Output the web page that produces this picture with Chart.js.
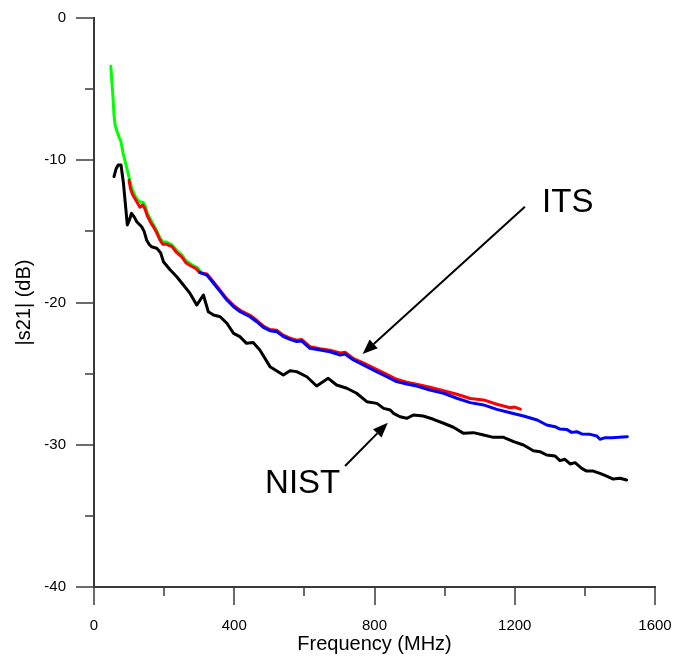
<!DOCTYPE html>
<html><head><meta charset="utf-8">
<script src="https://cdn.jsdelivr.net/npm/chart.js@4.4.1/dist/chart.umd.min.js"></script>
<style>html,body{margin:0;padding:0;background:#fff}#wrap{width:680px;height:656px;position:relative}</style>
</head><body><div id="wrap"><canvas id="c"></canvas></div>
<script>
// ---- data (frequency in MHz, |s21| in dB) ----
const greenFreq = [48,51,54,57,60,66,72,77,83,89,94,100,107,117,125,133,140,145,152,160,170,179,188,197,207,215,222,236,250,262,274,285,295,305];
const greenDb   = [-3.4,-4.5,-5.5,-6.8,-7.5,-8.0,-8.4,-8.7,-9.5,-10.1,-10.6,-11.2,-11.9,-12.5,-12.8,-12.95,-12.95,-13.15,-13.7,-14.1,-14.55,-14.95,-15.45,-15.75,-15.75,-15.85,-15.95,-16.35,-16.65,-17.05,-17.25,-17.45,-17.55,-17.85];

const redFreq = [100,104,110,117,124,131,139,145,152,160,170,179,188,196,207,215,222,236,250,262,274,290,302,322,341,360,379,398,417,445,464,483,502,521,540,559,578,592,616,645,673,702,716,740,768,797,835,863,892,920,958,997,1035,1073,1111,1149,1187,1200,1216];
const redDb   = [-11.4,-12.0,-12.4,-12.7,-13.0,-13.3,-13.15,-13.4,-13.9,-14.3,-14.7,-15.1,-15.6,-15.9,-15.9,-16.0,-16.05,-16.5,-16.8,-17.2,-17.4,-17.6,-17.9,-18.0,-18.55,-19.15,-19.75,-20.2,-20.55,-20.9,-21.25,-21.65,-21.9,-21.95,-22.3,-22.5,-22.65,-22.6,-23.1,-23.25,-23.35,-23.55,-23.5,-23.95,-24.25,-24.6,-25.05,-25.4,-25.6,-25.75,-25.95,-26.2,-26.45,-26.75,-26.85,-27.15,-27.4,-27.35,-27.5];

const blueFreq = [302,322,341,360,379,398,417,445,464,483,502,521,540,559,578,592,616,645,673,702,716,740,768,797,835,863,892,920,958,997,1035,1073,1111,1149,1187,1225,1264,1291,1315,1329,1348,1362,1377,1391,1415,1434,1443,1458,1477,1496,1521];
const blueDb   = [-17.9,-18.07,-18.65,-19.24,-19.82,-20.3,-20.65,-21.0,-21.35,-21.75,-21.98,-22.05,-22.4,-22.59,-22.75,-22.7,-23.22,-23.34,-23.46,-23.69,-23.62,-24.04,-24.39,-24.75,-25.22,-25.56,-25.73,-25.87,-26.15,-26.38,-26.73,-27.04,-27.2,-27.51,-27.75,-27.98,-28.26,-28.61,-28.73,-28.9,-28.92,-29.13,-29.08,-29.24,-29.27,-29.38,-29.62,-29.5,-29.5,-29.48,-29.43];

const blackFreq = [57,63,69,77,84,90,95,101,107,115,122,136,143,150,157,164,179,190,198,217,236,255,274,293,312,326,341,360,379,398,416,435,454,473,502,540,559,578,607,635,668,692,721,749,778,807,826,845,854,873,892,911,939,968,997,1025,1054,1082,1111,1139,1168,1197,1225,1253,1272,1291,1315,1329,1343,1358,1372,1391,1405,1424,1443,1462,1481,1500,1519];
const blackDb   = [-11.15,-10.6,-10.33,-10.33,-11.62,-13.2,-14.55,-14.2,-13.73,-14.0,-14.32,-14.67,-15.0,-15.6,-15.9,-16.08,-16.19,-16.5,-17.13,-17.7,-18.19,-18.77,-19.36,-20.18,-19.47,-20.65,-20.88,-21.0,-21.46,-22.17,-22.4,-22.87,-22.82,-23.34,-24.51,-25.1,-24.8,-24.86,-25.22,-25.87,-25.33,-25.8,-26.03,-26.38,-26.97,-27.09,-27.44,-27.56,-27.79,-28.03,-28.14,-27.91,-27.98,-28.21,-28.49,-28.77,-29.2,-29.15,-29.31,-29.48,-29.48,-29.78,-30.02,-30.42,-30.49,-30.72,-30.79,-31.12,-31.02,-31.35,-31.26,-31.66,-31.85,-31.85,-32.01,-32.2,-32.41,-32.36,-32.48];

// annotations (data units): label text, label anchor, arrow tail, arrow tip
const noteTexts  = ['ITS', 'NIST'];
const noteAnchor = [[1278, -13.64], [488, -33.39]];
const arrowTail  = [[1229, -13.27], [716, -31.49]];
const arrowTip   = [[766, -23.62], [838, -28.45]];

const xTitle = 'Frequency (MHz)';
const yTitle = '|s21| (dB)';

function pts(xs, ys){ return xs.map((x,i)=>({x:x, y:ys[i]})); }

const FONT = '"Liberation Sans", Arial, sans-serif';
const AXIS = '#3a3a3a';

const tickPlugin = {
  id: 'tickMarks',
  afterDraw(chart){
    const ctx = chart.ctx;
    const xs = chart.scales.x, ys = chart.scales.y;
    ctx.save();
    ctx.strokeStyle = AXIS;
    ctx.lineWidth = 1.5;
    xs.ticks.forEach(t=>{
      const px = Math.round(xs.getPixelForValue(t.value));
      const len = (t.value % 400 === 0) ? 18 : 9;
      ctx.beginPath(); ctx.moveTo(px, ys.bottom); ctx.lineTo(px, ys.bottom + len); ctx.stroke();
    });
    ys.ticks.forEach(t=>{
      const py = Math.round(ys.getPixelForValue(t.value));
      const len = (t.value % 10 === 0) ? 18 : 9;
      ctx.beginPath(); ctx.moveTo(xs.left, py); ctx.lineTo(xs.left - len, py); ctx.stroke();
    });
    // annotations
    ctx.fillStyle = '#000';
    ctx.strokeStyle = '#000';
    ctx.font = '33px ' + FONT;
    ctx.textBaseline = 'alphabetic';
    ctx.textAlign = 'left';
    noteTexts.forEach((txt,i)=>{
      ctx.fillText(txt, xs.getPixelForValue(noteAnchor[i][0]), ys.getPixelForValue(noteAnchor[i][1]));
      const x0 = xs.getPixelForValue(arrowTail[i][0]), y0 = ys.getPixelForValue(arrowTail[i][1]);
      const x1 = xs.getPixelForValue(arrowTip[i][0]),  y1 = ys.getPixelForValue(arrowTip[i][1]);
      const ang = Math.atan2(y1 - y0, x1 - x0);
      const hl = 15, hw = 6;
      const bx = x1 - hl*Math.cos(ang), by = y1 - hl*Math.sin(ang);
      ctx.lineWidth = 2;
      ctx.beginPath(); ctx.moveTo(x0, y0); ctx.lineTo(bx, by); ctx.stroke();
      ctx.beginPath();
      ctx.moveTo(x1, y1);
      ctx.lineTo(bx + hw*Math.sin(ang), by - hw*Math.cos(ang));
      ctx.lineTo(bx - hw*Math.sin(ang), by + hw*Math.cos(ang));
      ctx.closePath(); ctx.fill();
    });
    ctx.restore();
  }
};

const lineDs = (data, color, order) => ({
  data, borderColor: color, backgroundColor: color, borderWidth: 3,
  pointRadius: 0, tension: 0, fill: false, order,
  borderJoinStyle: 'round', borderCapStyle: 'round'
});

new Chart(document.getElementById('c'), {
  type: 'line',
  data: {
    datasets: [
      lineDs(pts(blackFreq, blackDb), '#000000', 3),
      lineDs(pts(greenFreq, greenDb), '#00ff00', 2),
      lineDs(pts(redFreq, redDb), '#ff0000', 1),
      lineDs(pts(blueFreq, blueDb), '#0000ff', 0)
    ]
  },
  options: {
    responsive: true, maintainAspectRatio: false, animation: false,
    layout: { padding: { left: 0, top: 18, right: 25, bottom: 0 } },
    plugins: { legend: { display: false }, tooltip: { enabled: false } },
    scales: {
      x: {
        type: 'linear', min: 0, max: 1600,
        border: { display: true, color: AXIS, width: 2 },
        grid: { drawOnChartArea: false, drawTicks: false },
        ticks: { stepSize: 200, padding: 30, maxRotation: 0, autoSkip: false,
          color: '#000', font: { family: FONT, size: 15 },
          callback: v => (v % 400 === 0 ? String(v) : '') },
        title: { display: true, text: xTitle, color: '#000',
          font: { family: FONT, size: 20 }, padding: { top: 0, bottom: 0 } },
        afterFit: s => { s.height = 69; s.paddingLeft = 0; s.paddingRight = 0; s.paddingTop = 0; s.paddingBottom = 0; }
      },
      y: {
        type: 'linear', min: -40, max: 0,
        border: { display: true, color: AXIS, width: 2 },
        grid: { drawOnChartArea: false, drawTicks: false },
        ticks: { stepSize: 5, padding: 28, autoSkip: false,
          color: '#000', font: { family: FONT, size: 15 },
          callback: v => (v % 10 === 0 ? String(v) : '') },
        title: { display: true, text: yTitle, color: '#000',
          font: { family: FONT, size: 20 }, padding: { top: 12, bottom: 0 } },
        afterFit: s => { s.width = 94; s.paddingLeft = 0; s.paddingRight = 0; s.paddingTop = 0; s.paddingBottom = 0; }
      }
    }
  },
  plugins: [tickPlugin]
});
</script>
</body></html>
